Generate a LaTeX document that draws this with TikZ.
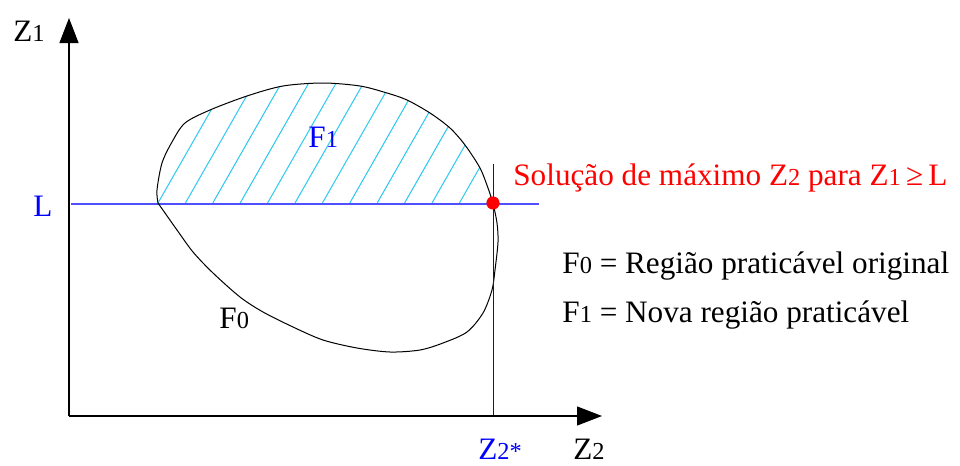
\documentclass[tikz,border=0pt]{standalone}
\usepackage{fontspec}
\setmainfont{Liberation Serif}
\usetikzlibrary{arrows.meta,positioning}

\definecolor{hatchcyan}{RGB}{40,200,240}
\definecolor{levelblue}{RGB}{80,80,255}
\newcommand{\idx}[1]{{\fontsize{12.2}{12.2}\selectfont #1}}
\newcommand{\regionpath}{%
	plot[smooth, tension=0.5] coordinates {(158,203) (157,190) (162,163) (172,142) (185,123) (210,110) (247,96) (283,86) (323,83) (360,86) (387,93) (407,100) (430,113) (450,128) (465,145) (480,168) (488,188) (493,203)}
	-- plot[smooth, tension=0.5] coordinates {(493,203) (497,223) (498,242) (495,270) (492,290) (483,313) (467,332) (443,343) (420,350) (390,352) (357,348) (323,340) (293,327) (263,312) (240,297) (213,273) (193,252) (177,230) (165,213) (158,203)}
	-- cycle}

\begin{document}
\begin{tikzpicture}[
				x=0.5pt, y=-0.5pt,
				lbl/.style={
					inner sep=0pt, anchor=base west,
					font=\fontsize{15.6}{15.6}\selectfont
				},
				axis/.style={-{Triangle[width=9.5pt,length=12.5pt]}, line width=0.6pt, black},
				hatch/.style={hatchcyan, line width=0.5pt},
				boundary/.style={black, line width=0.5pt}
				]
				\useasboundingbox (0,0) rectangle (960,466);
				
				% axes points
				\coordinate (origin) at (69,416);
				\coordinate (z1end) at (69,18);
				\coordinate (z2end) at (602,416);
				
				% hatched part F1 (above L)
				\begin{scope}
					\clip \regionpath;
					\clip (100,203) rectangle (520,60);
					\foreach \k in {0,...,12}
						\draw[hatch] (158+27.4*\k,203) -- ++(80,-140);
				\end{scope}
				
				% level L
				\coordinate (lstart) at (71,204);
				\coordinate (lend) at (539,204);
				\draw[levelblue, line width=0.6pt] (lstart) -- (lend);
				
				% region F0
				\draw[boundary] \regionpath;
				
				% vertical at Z2*
				\coordinate (zstartop) at (493,164);
				\coordinate (zstarfoot) at (493,416);
				\draw[blue, line width=0.5pt] (zstartop) -- (zstarfoot);
				
				% axes
				\draw[axis] (origin) -- (z1end);
				\draw[axis] (origin) -- (z2end);
				
				% optimum
				\fill[red] (493,203) circle (3.3pt);
				
				% labels
				\node[lbl] (z1lbl) at (13,41) {Z\idx{1}};
				\node[lbl, text=blue] (llbl) at (33,216) {L};
				\node[lbl, text=blue] (f1lbl) at (308,147) {F\idx{1}};
				\node[lbl] (f0lbl) at (219,328) {F\idx{0}};
				\node[lbl, text=red] (sollbl) at (513,185) {Solução de máximo Z\idx{2} para Z\idx{1}\,≥\,L};
				\node[lbl] (leg0) at (562,273) {F\idx{0} = Região praticável original};
				\node[lbl] (leg1) at (562,322) {F\idx{1} = Nova região praticável};
				\node[lbl, text=blue] (zstarlbl) at (478,459) {Z\idx{2*}};
				\node[lbl] (z2lbl) at (573,459) {Z\idx{2}};
			\end{tikzpicture}
\end{document}
